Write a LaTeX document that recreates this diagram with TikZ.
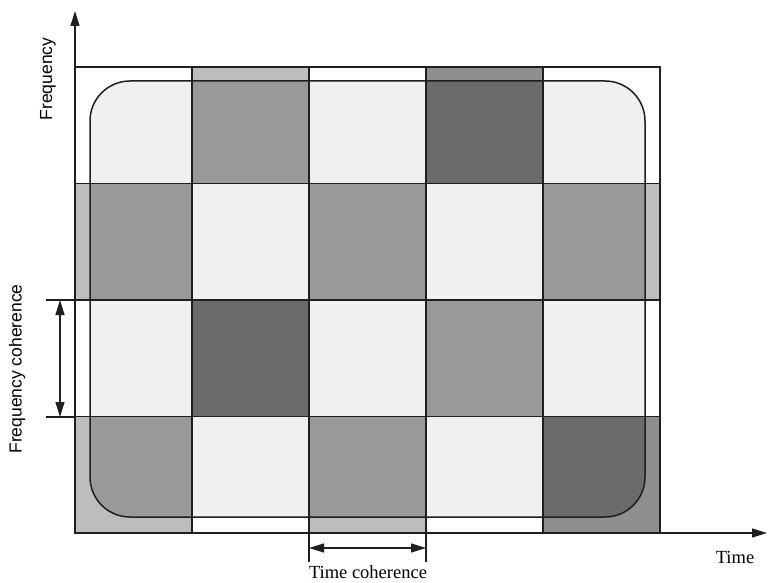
\documentclass[tikz,border=0pt]{standalone}
\usepackage{fontspec}
\setmainfont{Liberation Serif}
\setsansfont{Liberation Sans}
\usepackage{xcolor}
\definecolor{inL}{gray}{0.94}
\definecolor{inM}{gray}{0.60}
\definecolor{inD}{gray}{0.42}
\definecolor{bandL}{gray}{1.00}
\definecolor{bandM}{gray}{0.74}
\definecolor{bandD}{gray}{0.56}
\definecolor{lineDark}{gray}{0.12}
\usetikzlibrary{arrows.meta}
\tikzset{
    % grid and frame lines
    grid line/.style={draw=lineDark, line width=1.3pt},
    % rounded coverage area
    coverage/.style={draw=lineDark, line width=1.5pt, rounded corners=40pt},
    % axes with filled heads
    axis/.style={draw=lineDark, line width=1.4pt, -{Triangle[length=15pt, width=9pt]}},
    % coherence dimension arrows
    dim arrow/.style={draw=lineDark, line width=1.3pt,
        {Triangle[length=15pt, width=9pt]}-{Triangle[length=15pt, width=9pt]}},
    ext line/.style={draw=lineDark, line width=1.1pt},
    % labels
    axis label/.style={font=\fontsize{18.5}{22}\selectfont, inner sep=0pt},
    side label/.style={font=\sffamily\fontsize{17.5}{21}\selectfont, rotate=90, inner sep=0pt},
}

\begin{document}
\begin{tikzpicture}[x=1pt, y=-1pt]
    \useasboundingbox (0,0) rectangle (768,583);

    % corners of the chart
    \coordinate (O) at (75,533);
    \coordinate (ytop) at (75,11);
    \coordinate (xend) at (767,533);

    % cells: column / row / shade
    \def\cells{0/0/L,1/0/M,2/0/L,3/0/D,4/0/L,
               0/1/M,1/1/L,2/1/M,3/1/L,4/1/M,
               0/2/L,1/2/D,2/2/L,3/2/M,4/2/L,
               0/3/M,1/3/L,2/3/M,3/3/L,4/3/D}
    \foreach \c/\r/\s in \cells
        \fill[fill=band\s] (75+117*\c, 67+116.5*\r) rectangle ++(117,116.5);
    \begin{scope}
        \clip[rounded corners=40pt] (90,81) rectangle (645,517);
        \foreach \c/\r/\s in \cells
            \fill[fill=in\s] (75+117*\c, 67+116.5*\r) rectangle ++(117,116.5);
    \end{scope}

    % grid
    \foreach \c in {1,...,4}
        \draw[grid line] (75+117*\c, 67) -- (75+117*\c, 533);
    \foreach \r in {1,2,3}
        \draw[grid line] (75, 67+116.5*\r) -- (660, 67+116.5*\r);
    \draw[grid line] (75,67) rectangle (660,533);
    \draw[coverage] (90,81) rectangle (645,517);

    % axes
    \draw[axis] (O) -- (ytop);
    \draw[axis] (O) -- (xend);

    % frequency coherence
    \coordinate (fcA) at (46,300);
    \coordinate (fcB) at (46,417);
    \draw[ext line] (fcA) -- ++(29,0);
    \draw[ext line] (fcB) -- ++(29,0);
    \coordinate (fcA1) at (60,300);
    \coordinate (fcB1) at (60,417);
    \draw[dim arrow] (fcA1) -- (fcB1);

    % time coherence
    \coordinate (tcA) at (309,533);
    \coordinate (tcB) at (426,533);
    \draw[ext line] (tcA) -- ++(0,29);
    \draw[ext line] (tcB) -- ++(0,29);
    \coordinate (tcA1) at (309,548);
    \coordinate (tcB1) at (426,548);
    \draw[dim arrow] (tcA1) -- (tcB1);

    % labels
    \node (freq) [side label] at (48,79) {Frequency};
    \node (fcoh) [side label] at (17,369) {Frequency coherence};
    \node (time) [axis label] at (735,557) {Time};
    \node (tcoh) [axis label] at (368,572) {Time coherence};
\end{tikzpicture}
\end{document}
